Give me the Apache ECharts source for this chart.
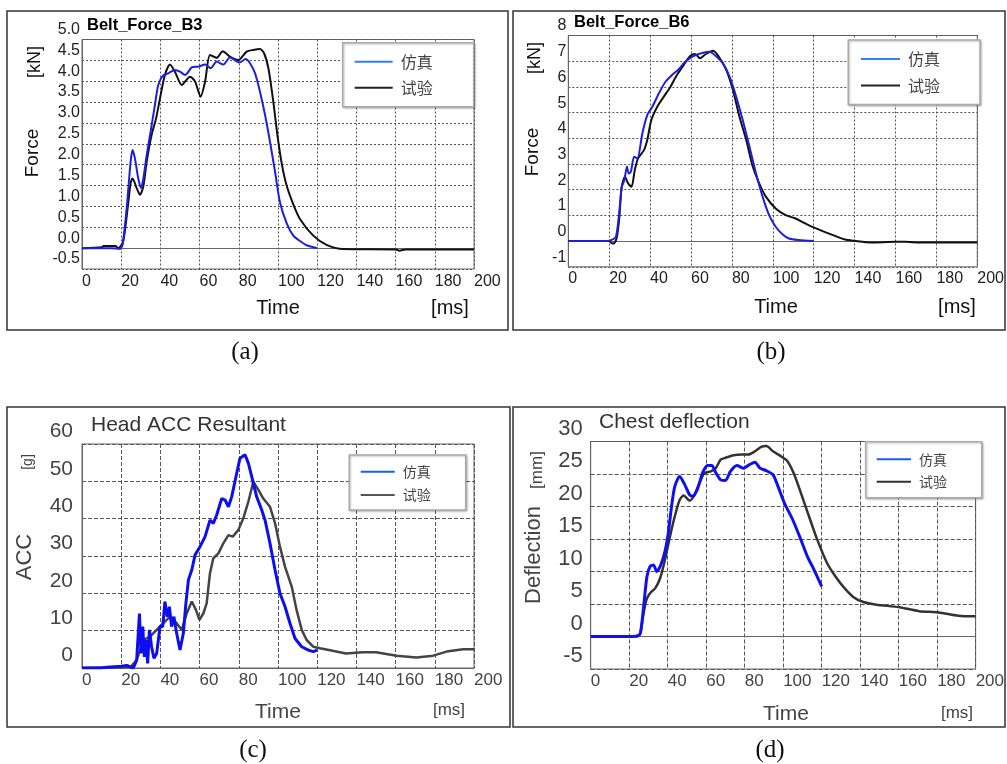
<!DOCTYPE html>
<html>
<head>
<meta charset="utf-8">
<script src="https://cdn.jsdelivr.net/npm/echarts@6/dist/echarts.min.js"></script>
<style>
  html, body { margin: 0; padding: 0; background: #fff; }
  #main { width: 1007px; height: 764px; }
</style>
</head>
<body>
<div id="main"></div>
<script>
// ---- data: [time ms, value] ----
const b3Sim = [[0,0],[15,0],[19.4,-0.02],[20.7,0.08],[22.8,0.96],[24.8,2.07],[25.8,2.35],[27,2.15],[28.7,1.67],[30.1,1.44],[31.3,1.67],[33,2.23],[35,2.79],[37.2,3.43],[38.9,3.91],[41.2,4.13],[44,4.19],[47.4,4.27],[50,4.23],[52.6,4.15],[56,4.33],[59.4,4.35],[62.8,4.4],[65.6,4.31],[68.7,4.47],[72.1,4.4],[75.5,4.57],[80.3,4.45],[83.5,4.53],[85.7,4.43],[88.3,4.19],[90.8,3.75],[93.4,3.19],[95.9,2.55],[98.5,1.83],[101,1.1],[104.4,0.6],[107.8,0.3],[111.2,0.17],[114.6,0.07],[120,0]];
const b3Test = [[0,0],[10,0.02],[11,0.05],[17,0.05],[18.5,0],[21,0.16],[23.3,0.96],[24.8,1.56],[25.8,1.67],[27.9,1.44],[29.6,1.28],[31.3,1.48],[33,2.07],[35.5,2.71],[37.8,3.11],[39.8,3.59],[42.3,4.15],[44.9,4.4],[47.4,4.23],[50.9,3.91],[55.1,4.11],[57.7,3.99],[60.5,3.63],[62.8,3.99],[65.3,4.63],[68.7,4.56],[71.8,4.72],[75.5,4.59],[79.8,4.51],[84,4.71],[87.4,4.75],[90.8,4.77],[92.9,4.67],[95.1,4.31],[97.6,3.51],[99.7,2.71],[102,2.0],[104.4,1.5],[107.8,1.05],[111.2,0.7],[118,0.3],[124.8,0.08],[133.3,-0.02],[160,-0.03],[162,-0.06],[165,-0.03],[200,-0.03]];

const b6Sim = [[0,0],[18,0],[20.9,0.04],[23.3,0.17],[25,1.2],[26.1,2.1],[27.4,2.37],[28.7,2.9],[29.5,2.63],[30.6,2.7],[32.2,3.28],[33.8,3.22],[36.2,4.19],[38.6,4.9],[41.1,5.23],[44.3,5.75],[47.5,6.2],[50.7,6.46],[53.9,6.68],[57.2,6.98],[61.2,7.2],[66,7.33],[69.2,7.37],[72.5,7.17],[75.7,6.91],[78.9,6.39],[82.1,5.62],[85.3,4.71],[88.6,3.67],[91.8,2.63],[95,1.73],[98.2,1.01],[101.4,0.56],[104.7,0.27],[107.9,0.1],[112.7,0.04],[120,0]];
const b6Test = [[0,0],[20,0],[21.5,-0.09],[22.5,-0.08],[23.8,0.17],[25,0.95],[26.1,2.1],[27.7,2.5],[29.3,2.24],[30.9,2.11],[32.5,2.76],[34.1,3.22],[37,3.54],[38.6,3.93],[40.6,4.71],[43.5,5.23],[46.7,5.62],[49.9,6.0],[53.1,6.46],[56.4,6.85],[59.6,7.2],[62,7.28],[64.4,7.11],[67.3,7.28],[70.9,7.41],[74.1,7.11],[77.3,6.65],[80.5,5.88],[83.7,4.84],[87,3.93],[90.2,2.9],[93.4,2.24],[96.6,1.73],[101.4,1.27],[106.3,1.01],[111.1,0.88],[114.3,0.75],[119,0.56],[127.2,0.3],[135.3,0.06],[140,0.01],[148,-0.05],[160,-0.03],[165,-0.03],[172,-0.05],[200,-0.05]];

const headSim = [[0,0],[10,0],[12.6,0.2],[20,0.5],[22.8,0.7],[26.2,0],[27.9,2.1],[29.3,14.6],[30.1,3.9],[31,11.1],[31.8,3.0],[32.7,7.5],[33.5,1.25],[34.4,10.2],[35.5,5.7],[36.7,2.6],[38.1,3.9],[39.8,11.1],[41.2,11.1],[42.3,17.8],[43.5,13.75],[44.6,16.4],[45.7,11.1],[46.9,13.75],[48.3,9.3],[50,4.8],[51.7,9.3],[53,17.3],[54.3,23.6],[56,26.25],[57.7,30.3],[60.2,32.5],[62.8,35.2],[65.3,39.6],[67,38.75],[68.7,41],[71.3,45.4],[73,45],[74.7,43.2],[76.4,45.9],[78.9,52.1],[80.6,56.2],[83.2,57.1],[84.9,54.8],[86.6,51.25],[89.1,45.9],[91.7,42.3],[93.4,39.6],[95.9,33.4],[98.5,26.25],[101,20],[103.6,16.4],[106.1,12],[108.7,7.9],[112.1,5.7],[115.5,4.8],[118,4.4],[120,4.8]];
const headTest = [[0,0],[20,0.2],[25,0.4],[27.9,2.1],[31.3,7.5],[34.7,8.4],[38.1,10.2],[41.5,12],[44.9,13.75],[48.3,12],[50.9,10.2],[53.4,14.6],[56,17.8],[58.2,15.5],[59.9,12.9],[61.9,14.6],[63.6,17.3],[65.3,25.4],[67,29.4],[69.6,30.7],[72.1,33.4],[74.7,35.6],[76.9,35.2],[79.8,37],[82.3,40.1],[84.9,44.6],[87.4,49.9],[90,47.7],[92.5,45.4],[95.9,43.2],[98.5,38.75],[101,32.5],[103.6,27.1],[107,21.8],[109.5,15.5],[112.1,10.2],[114.6,7.5],[118,5.7],[121.4,5.3],[127.9,4.6],[134.7,3.9],[143.2,4.2],[150,4.2],[160.5,3.3],[170.6,2.8],[179.2,3.3],[186,4.4],[194.5,5.0],[200,5.0]];

const chestSim = [[0,0],[20,0],[24.1,0.1],[25.8,0.5],[27.5,4.6],[29.2,9.2],[30.9,10.8],[32.6,11.0],[34.3,10],[36.4,11],[38.6,13.1],[40.3,15.9],[42,20],[43.7,23.1],[46.2,24.6],[48.8,23.4],[51.4,21.8],[53.1,21.6],[55.6,22.8],[58.2,25.2],[60.7,26.3],[62.9,26.3],[65,25.2],[67.5,24.1],[70,24.0],[72.6,25.4],[76,26.3],[79.4,25.9],[82.8,26.5],[85.4,26.8],[87.9,25.9],[91.3,25.5],[94.7,24.9],[97.3,23.1],[100.7,20.5],[104.9,18],[109.2,14.9],[112.6,12.3],[116,10.3],[120,7.7]];
const chestTest = [[0,0],[24,0],[25.8,0.5],[27.2,3.1],[28.9,5.6],[30.9,6.7],[33.5,7.4],[36.1,9.0],[38.6,11.8],[41.2,15.4],[43.7,18.5],[46.2,21],[48.3,21.7],[51.4,20.9],[53.9,21.8],[56.5,23.6],[59,25.1],[62.4,25.4],[65,25.9],[67.5,27.2],[70,27.5],[74.3,27.9],[78.6,28],[81.9,28],[85.4,28.5],[88.8,29.2],[91.3,29.3],[94.7,28.5],[99,27.7],[102.4,26.9],[105.8,24.9],[109.2,22.1],[113.4,18.5],[117.7,14.9],[122.8,11.3],[127,9.3],[131.4,7.6],[136.6,6.05],[141.7,5.3],[148.5,4.9],[160.4,4.5],[170.6,3.9],[180.8,3.7],[191,3.2],[200,3.1]];

const legendNames = ['仿真', '试验'];
const captions = ['(a)', '(b)', '(c)', '(d)'];

// ---- layout / style per panel ----
const panels = [
  { grid: { left: 82, top: 39.5, width: 392, height: 229.5 }, yMin: -0.5, yMax: 5, yStep: 0.5, digits: 1,
    ySize: 16, xSize: 16, tickColor: '#222', yMargin: 2, xMargin: 5, yShift: 10, gridType: [2, 2],
    sim: b3Sim, test: b3Test, simColor: '#1e1ee0', testColor: '#111', simW: 2, testW: 2, smooth: 0.25,
    legend: { left: 342.7, top: 42.7, w: 38, font: 16, gap: 8, pad: [10, 41, 10, 12], lineColors: ['#2f80f2', '#222'] } },
  { grid: { left: 568.3, top: 35.5, width: 414, height: 231.3 }, yMin: -1, yMax: 8, yStep: 1, digits: 0,
    ySize: 16, xSize: 16, tickColor: '#222', yMargin: 2, xMargin: 4, yShift: 9.5, gridType: [2, 2],
    sim: b6Sim, test: b6Test, simColor: '#1e1ee0', testColor: '#111', simW: 2, testW: 2, smooth: 0.25,
    legend: { left: 848.3, top: 40, w: 39, font: 16, gap: 8.5, pad: [10, 40, 10, 12.7], lineColors: ['#2f80f2', '#222'] } },
  { grid: { left: 82, top: 444, width: 392, height: 224 }, yMin: 0, yMax: 60, yStep: 10, digits: 0,
    ySize: 21, xSize: 17, tickColor: '#444', yMargin: 9, xMargin: 4, yShift: 12.5, gridType: [4, 2],
    sim: headSim, test: headTest, simColor: '#0d0df2', testColor: '#444', simW: 3, testW: 2.5, smooth: false,
    legend: { left: 349.3, top: 455, w: 34, font: 14, gap: 7.3, pad: [8.7, 35, 7, 11.4], lineColors: ['#1060f0', '#555'] } },
  { grid: { left: 590.7, top: 441.5, width: 391.6, height: 227.5 }, yMin: -5, yMax: 30, yStep: 5, digits: 0,
    ySize: 22, xSize: 17, tickColor: '#444', yMargin: 8, xMargin: 4, yShift: 13, gridType: [4, 2],
    sim: chestSim, test: chestTest, simColor: '#1010ee', testColor: '#333', simW: 3, testW: 2.5, smooth: 0.25,
    legend: { left: 865.7, top: 441.7, w: 34.3, font: 14, gap: 6.4, pad: [9.6, 34.7, 8, 11], lineColors: ['#1060f0', '#333'] } }
];

const texts = [
  // panel a
  { t: 'Belt_Force_B3', x: 87, y: 25, s: 16.5, w: 'bold', c: '#000', a: 'left' },
  { t: '[kN]', x: 35, y: 62, s: 18, c: '#111', r: true },
  { t: 'Force', x: 33, y: 153, s: 19, c: '#111', r: true },
  { t: 'Time', x: 278, y: 308, s: 20, c: '#111' },
  { t: '[ms]', x: 450, y: 308, s: 20, c: '#111' },
  // panel b
  { t: 'Belt_Force_B6', x: 574, y: 22, s: 16.5, w: 'bold', c: '#000', a: 'left' },
  { t: '[kN]', x: 535, y: 58, s: 18, c: '#111', r: true },
  { t: 'Force', x: 533, y: 152, s: 19, c: '#111', r: true },
  { t: 'Time', x: 776, y: 307, s: 20, c: '#111' },
  { t: '[ms]', x: 957, y: 307, s: 20, c: '#111' },
  // panel c
  { t: 'Head ACC Resultant', x: 91, y: 425, s: 21, c: '#333', a: 'left' },
  { t: '[g]', x: 28, y: 462, s: 14, c: '#444', r: true },
  { t: 'ACC', x: 25, y: 557, s: 22, c: '#444', r: true },
  { t: 'Time', x: 278, y: 712, s: 21, c: '#444' },
  { t: '[ms]', x: 449, y: 710, s: 17, c: '#444' },
  // panel d
  { t: 'Chest deflection', x: 599, y: 422, s: 21, c: '#333', a: 'left' },
  { t: '[mm]', x: 537, y: 470, s: 17, c: '#444', r: true },
  { t: 'Deflection', x: 534, y: 555, s: 22, c: '#444', r: true },
  { t: 'Time', x: 786, y: 714, s: 21, c: '#444' },
  { t: '[ms]', x: 957, y: 713, s: 17, c: '#444' }
];
const captionPos = [[245, 352], [771, 352], [253, 750], [770, 750]];
const boxes = [[7, 11, 501, 319], [513, 11, 492, 319], [7, 407, 503, 320], [513, 407, 492, 320]];

const chart = echarts.init(document.getElementById('main'));

const grids = [], xAxes = [], yAxes = [], series = [], legends = [], graphics = [];

panels.forEach(function (p, i) {
  grids.push(Object.assign({ show: true, borderColor: '#666', borderWidth: 1, backgroundColor: '#fff' }, p.grid));
  xAxes.push({
    type: 'value', gridIndex: i, min: 0, max: 200, interval: 20,
    axisLine: { show: true, lineStyle: { color: '#666' } },
    axisTick: { show: false },
    axisLabel: { align: 'left', margin: p.xMargin, fontSize: p.xSize, color: p.tickColor, fontFamily: 'Liberation Sans' },
    splitLine: { show: true, lineStyle: { color: '#555', type: p.gridType, width: 1 } }
  });
  yAxes.push({
    type: 'value', gridIndex: i, min: p.yMin, max: p.yMax, interval: p.yStep,
    axisLine: { show: true, lineStyle: { color: '#666' } },
    axisTick: { show: false },
    axisLabel: {
      margin: p.yMargin, fontSize: p.ySize, color: p.tickColor, fontFamily: 'Liberation Sans',
      verticalAlign: 'bottom', lineHeight: p.yShift * 2,
      formatter: function (v) { return v.toFixed(p.digits); }
    },
    splitLine: { show: true, lineStyle: { color: '#555', type: p.gridType, width: 1 } }
  });
  series.push({
    name: '试验', type: 'line', xAxisIndex: i, yAxisIndex: i, data: p.test,
    symbol: 'none', smooth: p.smooth, lineStyle: { color: p.testColor, width: p.testW },
    itemStyle: { color: p.testColor }, z: 3
  });
  series.push({
    name: '仿真', type: 'line', xAxisIndex: i, yAxisIndex: i, data: p.sim,
    symbol: 'none', smooth: p.smooth, lineStyle: { color: p.simColor, width: p.simW },
    itemStyle: { color: p.simColor }, z: 4
  });
  const L = p.legend;
  legends.push({
    left: L.left, top: L.top, orient: 'vertical', icon: 'rect',
    itemWidth: L.w, itemHeight: 2, itemGap: L.gap, padding: L.pad,
    backgroundColor: '#fff', borderColor: '#aaa', borderWidth: 1.5,
    shadowColor: 'rgba(0,0,0,0.25)', shadowBlur: 2, shadowOffsetX: 1, shadowOffsetY: 1,
    selectedMode: false,
    textStyle: { fontSize: L.font, lineHeight: L.font + 2, color: '#444', fontFamily: 'Noto Sans CJK SC', padding: [0, 0, 0, 3] },
    data: legendNames.map(function (n, k) { return { name: n, itemStyle: { color: L.lineColors[k] } }; })
  });
  graphics.push({
    type: 'rect', z: -10, silent: true,
    shape: { x: boxes[i][0], y: boxes[i][1], width: boxes[i][2], height: boxes[i][3] },
    style: { fill: 'none', stroke: '#333', lineWidth: 1.5 }
  });
  graphics.push({
    type: 'text', x: captionPos[i][0], y: captionPos[i][1],
    style: { text: captions[i], fill: '#111', fontSize: 25, fontFamily: 'Liberation Serif', align: 'center', verticalAlign: 'middle' }
  });
});

texts.forEach(function (d) {
  graphics.push({
    type: 'text', x: d.x, y: d.y, rotation: d.r ? Math.PI / 2 : 0,
    style: {
      text: d.t, fill: d.c, fontSize: d.s, fontWeight: d.w || 'normal', fontFamily: 'Liberation Sans',
      align: d.a || 'center', verticalAlign: 'middle'
    }
  });
});

chart.setOption({
  animation: false,
  grid: grids,
  xAxis: xAxes,
  yAxis: yAxes,
  legend: legends,
  series: series,
  graphic: { elements: graphics }
});
</script>
</body>
</html>
